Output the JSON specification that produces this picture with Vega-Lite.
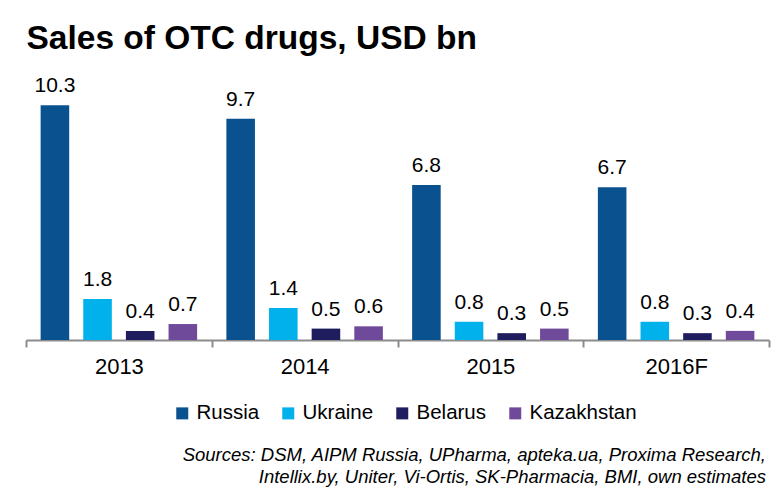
{
  "$schema": "https://vega.github.io/schema/vega-lite/v6.json",
  "width": 743,
  "height": 277,
  "padding": {"left": 25, "top": 21, "right": 3, "bottom": 5},
  "autosize": {"type": "pad"},
  "background": "white",
  "title": {"text": ["Sources: DSM, AIPM Russia, UPharma, apteka.ua, Proxima Research,", "Intellix.by, Uniter, Vi-Ortis, SK-Pharmacia, BMI, own estimates"],
    "orient": "bottom", "anchor": "end", "align": "right", "frame": "group", "font": "Liberation Sans", "fontSize": 18.5, "fontStyle": "italic", "fontWeight": "normal", "color": "black", "lineHeight": 22, "offset": 22, "dx": -3},
  "data": {"values": [
    {"year": "2013", "country": "Russia", "value": 10.3},
    {"year": "2013", "country": "Ukraine", "value": 1.8},
    {"year": "2013", "country": "Belarus", "value": 0.4},
    {"year": "2013", "country": "Kazakhstan", "value": 0.7},
    {"year": "2014", "country": "Russia", "value": 9.7},
    {"year": "2014", "country": "Ukraine", "value": 1.4},
    {"year": "2014", "country": "Belarus", "value": 0.5},
    {"year": "2014", "country": "Kazakhstan", "value": 0.6},
    {"year": "2015", "country": "Russia", "value": 6.8},
    {"year": "2015", "country": "Ukraine", "value": 0.8},
    {"year": "2015", "country": "Belarus", "value": 0.3},
    {"year": "2015", "country": "Kazakhstan", "value": 0.5},
    {"year": "2016F", "country": "Russia", "value": 6.7},
    {"year": "2016F", "country": "Ukraine", "value": 0.8},
    {"year": "2016F", "country": "Belarus", "value": 0.3},
    {"year": "2016F", "country": "Kazakhstan", "value": 0.4}
  ]},
  "encoding": {
    "xOffset": {"field": "country", "type": "nominal", "sort": ["Russia", "Ukraine", "Belarus", "Kazakhstan"],
      "scale": {"paddingInner": 0.33, "paddingOuter": 0.343}},
    "y": {"field": "value", "type": "quantitative", "scale": {"domain": [0, 12.15], "nice": false}, "axis": null}
  },
  "layer": [
    {"mark": {"type": "bar"},
     "encoding": {
       "x": {"field": "year", "type": "nominal", "sort": ["2013", "2014", "2015", "2016F"],
         "scale": {"paddingInner": 0, "paddingOuter": 0},
         "axis": {"title": null, "labelAngle": 0, "labelFont": "Liberation Sans", "labelFontSize": 22, "labelColor": "black", "labelPadding": 9, "domainColor": "#8c8c8c", "domainWidth": 2, "tickColor": "#8c8c8c", "tickWidth": 2, "tickSize": 7, "tickBand": "extent", "grid": false}},
       "color": {"field": "country", "type": "nominal", "sort": ["Russia", "Ukraine", "Belarus", "Kazakhstan"],
       "scale": {"domain": ["Russia", "Ukraine", "Belarus", "Kazakhstan"], "range": ["#0A5190", "#00B1EB", "#1F1D5E", "#704A9A"]},
       "legend": {"orient": "none", "legendX": 146, "legendY": 340, "direction": "horizontal", "title": null,
         "symbolType": "square", "symbolSize": 144, "symbolStrokeWidth": 0, "symbolOpacity": 1,
         "labelFont": "Liberation Sans", "labelFontSize": 20.5, "labelColor": "black", "labelOffset": 4, "labelLimit": 300, "columnPadding": 18}}}},
    {"mark": {"type": "text", "dy": -13, "baseline": "alphabetic", "fontSize": 21, "font": "Liberation Sans", "color": "black"},
     "encoding": {
       "x": {"field": "year", "type": "nominal", "sort": ["2013", "2014", "2015", "2016F"],
         "axis": {"orient": "top", "title": "Sales of OTC drugs, USD bn", "titleAnchor": "start", "titleAlign": "left", "titleFont": "Liberation Sans", "titleFontSize": 33.5, "titleFontWeight": "bold", "titleColor": "black", "titlePadding": 8, "domain": false, "ticks": false, "labels": false, "grid": false}},
       "text": {"field": "value", "type": "quantitative", "format": ".1f"}}}
  ],
  "resolve": {"axis": {"x": "independent"}},
  "config": {"view": {"stroke": null}}
}
